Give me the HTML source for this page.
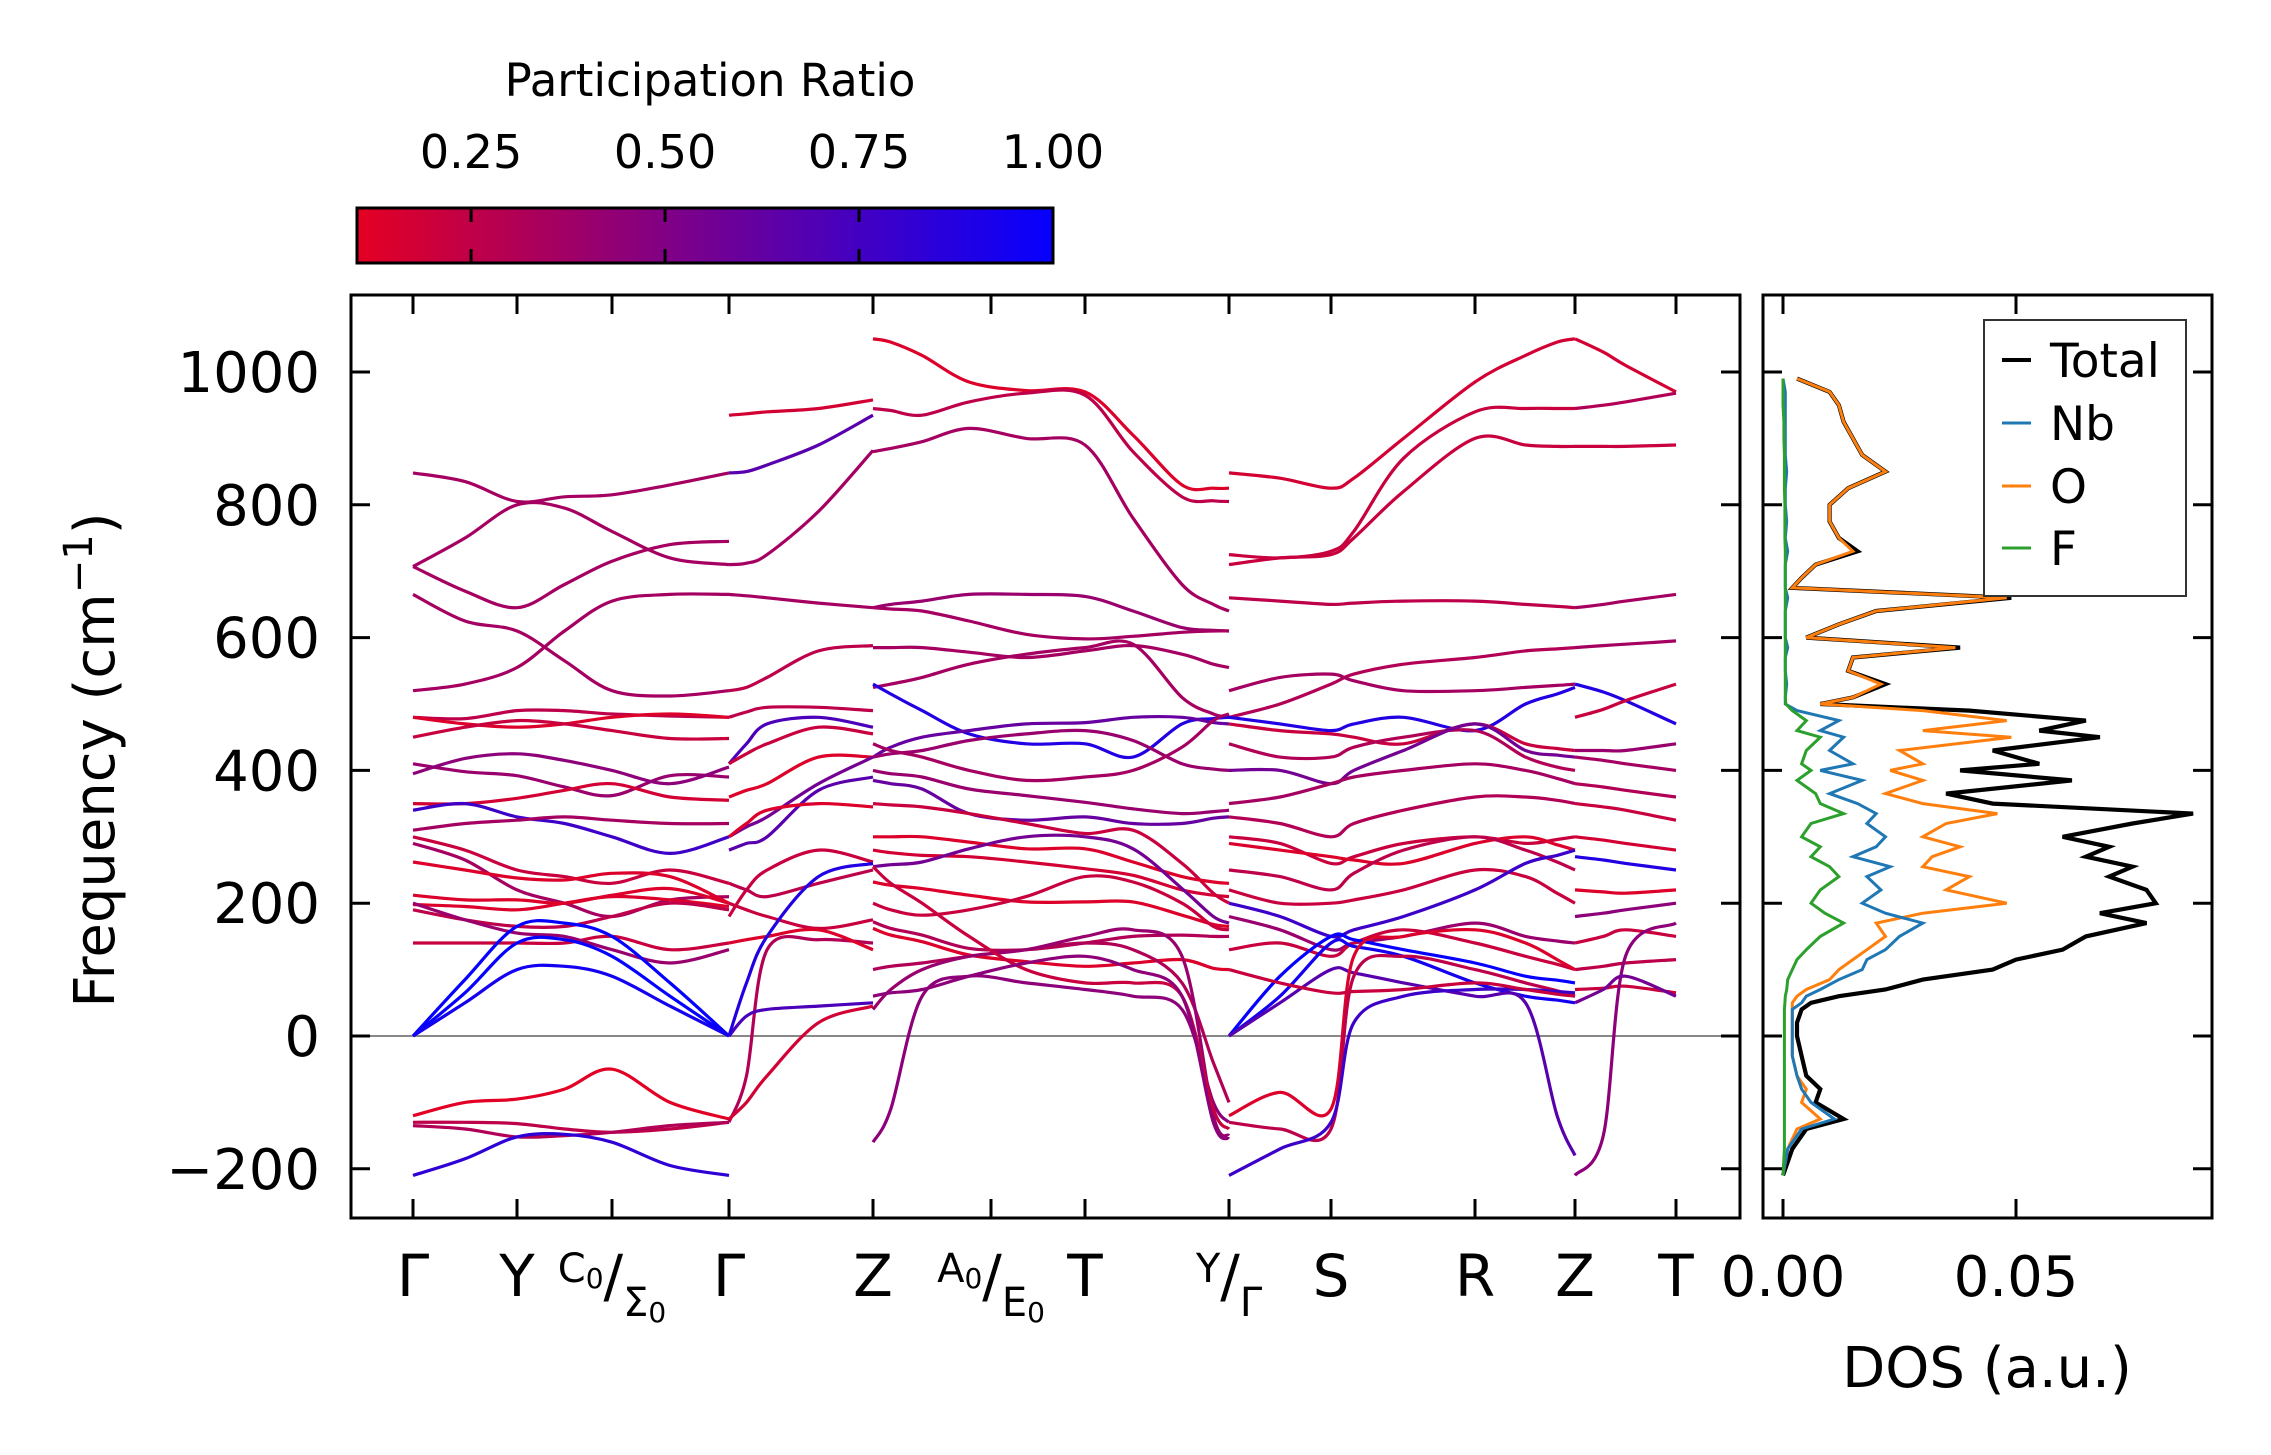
<!DOCTYPE html>
<html><head><meta charset="utf-8"><title>Phonon band structure and DOS</title>
<style>
html,body{margin:0;padding:0;background:#fff;}
svg{display:block;font-family:"DejaVu Sans","Liberation Sans",sans-serif;}
</style></head>
<body>
<svg id="chart" width="2271" height="1455" viewBox="0 0 2271 1455" xmlns="http://www.w3.org/2000/svg">
<defs>
<linearGradient id="cbgrad" x1="0" x2="1" y1="0" y2="0">
<stop offset="0" stop-color="rgb(228,0,35)"/>
<stop offset="1" stop-color="rgb(5,0,255)"/>
</linearGradient>
<clipPath id="mainclip"><rect x="351" y="295" width="1389" height="923"/></clipPath>
<clipPath id="dosclip"><rect x="1763" y="295" width="449" height="923"/></clipPath>
</defs>
<g id="colorbar">
<text x="710" y="96" font-size="45" text-anchor="middle">Participation Ratio</text>
<rect x="357" y="208" width="696" height="55" fill="url(#cbgrad)" stroke="#000" stroke-width="3"/>
</g>
<g id="bands" clip-path="url(#mainclip)"></g>
<g id="dos" clip-path="url(#dosclip)"></g>
<g id="axes"></g>
<text transform="translate(114,760) rotate(-90)" font-size="56" text-anchor="middle">Frequency (cm<tspan dy="-22" font-size="40">−1</tspan><tspan dy="22">)</tspan></text>
<text x="1987" y="1387" font-size="56" text-anchor="middle">DOS (a.u.)</text>
<g id="legend">
<rect x="1984" y="320" width="202" height="276" fill="#fff" stroke="#333" stroke-width="2"/>
</g>
</svg>
<script>
// ---------- Data ----------
const kLabels = ["Γ","Y","C0/Σ0","Γ","Z","A0/E0","T","Y/Γ","S","R","Z","T"];
const kDist = [0, 1.0, 1.92, 3.03, 4.43, 5.56, 6.47, 7.85, 8.83, 10.22, 11.17, 12.17];
const yTicks = [-200, 0, 200, 400, 600, 800, 1000];
const cbTicks = [0.25, 0.50, 0.75, 1.00];
const dosTicks = [0.00, 0.05];

// Segment 1: Γ -> Y -> C0|Σ0 -> Γ
const seg1K = [0, 0.5, 1.0, 1.46, 1.92, 2.47, 3.03];
const seg1Bands = [
 [848,835,805,812,815,830,848],[707,750,800,795,760,720,710],[707,670,645,680,715,740,745],
 [665,625,610,565,520,512,520],[520,530,555,610,655,665,665],[480,478,490,490,485,482,480],
 [480,470,465,470,480,485,480],[450,465,475,470,460,448,448],[410,398,392,375,362,392,390],
 [395,418,425,415,400,380,405],[350,350,358,370,380,360,355],[340,350,330,320,300,275,300],
 [310,320,325,330,325,320,320],[300,280,250,240,230,250,230],[290,265,220,200,180,205,210],
 [262,250,238,235,245,240,200],[212,205,205,200,212,222,200],[198,195,190,200,210,205,195],
 [190,175,165,165,180,200,190],[140,140,140,140,150,130,140],[200,175,155,150,130,110,130],
 [0,85,165,170,150,80,0],[0,65,140,145,120,60,0],[0,50,100,105,90,45,0],
 [-120,-100,-95,-80,-50,-100,-125],[-130,-130,-132,-140,-145,-140,-130],
 [-135,-140,-152,-150,-145,-135,-130],[-210,-185,-152,-148,-160,-195,-210]
];
const seg1P = [.4,.4,.4,.4,.4,.3,.15,.25,.45,.5,.2,.8,.4,.25,.4,.15,.15,.15,.3,.25,.45,1,1,.95,.12,.3,.35,.85];

// Segment 2: Γ -> Z
const seg2K = [3.03, 3.2, 3.4, 3.9, 4.43];
const seg2Bands = [
 [935,937,940,945,958],[848,850,860,890,935],[710,712,725,790,882],[665,663,660,652,645],
 [520,525,540,580,588],[480,488,495,495,490],[410,440,470,480,465],[410,425,440,465,455],
 [360,370,380,420,420],[300,315,330,380,420],[280,290,300,370,390],[-130,-60,130,145,140],
 [-125,-100,-60,20,45],[0,30,40,45,50],[200,190,180,162,175],[180,220,250,280,262],
 [140,145,150,160,130],[300,320,340,350,345],[230,220,210,230,250],[0,80,150,240,260]
];
const seg2P = [.2,.7,.4,.4,.3,.3,.75,.25,.15,.6,.7,.35,.2,.75,.25,.25,.15,.15,.3,.9];

// Segment 3: Z -> A0|E0 -> T -> Y
const seg3K = [4.43, 4.6, 4.9, 5.35, 5.9, 6.47, 6.93, 7.4, 7.7, 7.85];
const seg3Bands = [
 [1050,1045,1025,985,972,970,905,830,825,825],[945,942,935,955,968,965,880,812,806,805],
 [880,885,895,915,900,890,780,680,650,640],[645,650,655,665,665,662,640,615,611,610],
 [645,643,640,625,605,598,602,608,610,610],[585,585,585,578,570,580,588,575,560,555],
 [525,530,540,560,575,585,590,510,485,480],[530,515,490,455,440,440,420,470,478,480],
 [420,435,450,460,470,472,480,480,472,470],[420,425,430,445,455,460,445,410,402,400],
 [440,430,420,400,385,390,400,435,475,485],[400,395,390,372,362,352,342,335,338,340],
 [385,380,372,335,325,330,320,320,328,330],[350,348,345,335,320,305,310,260,215,200],
 [300,300,300,292,282,282,262,240,232,230],[280,276,272,270,262,252,242,220,212,210],
 [255,258,262,282,300,300,282,222,180,170],[232,227,222,212,202,202,202,182,168,165],
 [200,190,182,190,210,240,232,200,165,160],[172,162,152,132,130,140,150,152,150,150],
 [162,152,142,122,112,105,110,115,102,100],[100,105,110,120,130,140,130,80,-40,-100],
 [-160,-110,60,90,80,70,60,40,-100,-130],[40,70,100,120,130,150,160,120,-120,-150],
 [255,230,200,150,100,80,80,60,-110,-140],[60,65,70,90,110,120,100,60,-130,-155]
];
const seg3P = [.15,.3,.4,.45,.4,.4,.4,.9,.65,.45,.4,.45,.65,.25,.15,.2,.6,.15,.25,.35,.15,.35,.5,.45,.25,.5];

// Segment 4: Γ -> S -> R -> Z
const seg4K = [7.85, 8.34, 8.83, 9.05, 9.53, 10.22, 10.7, 11.0, 11.17];
const seg4Bands = [
 [848,840,825,840,900,985,1025,1045,1050],[725,720,730,760,870,940,945,945,945],
 [710,720,725,750,820,900,890,888,888],[660,655,650,652,655,655,650,647,645],
 [480,500,530,545,560,570,580,583,585],[520,540,545,535,520,520,525,528,530],
 [480,470,460,470,480,460,500,515,525],[470,460,455,450,440,470,440,433,430],
 [440,420,420,435,450,460,420,405,400],[400,400,380,400,430,470,430,423,420],
 [350,360,380,390,400,410,400,388,380],[330,320,300,320,340,360,360,355,350],
 [300,290,260,270,290,300,290,296,300],[290,280,270,265,260,290,300,288,280],
 [250,240,220,245,280,300,280,262,250],[220,200,200,205,220,250,240,215,200],
 [200,180,150,160,180,220,260,272,280],[180,160,130,140,150,170,150,143,140],
 [130,140,120,140,160,140,120,108,100],[0,90,150,145,130,110,90,84,80],
 [0,60,140,135,120,80,60,54,50],[0,50,100,95,80,60,50,-120,-180],
 [-120,-85,-110,120,150,160,140,115,100],[-130,-140,-140,90,120,100,80,68,60],
 [-210,-170,-130,20,60,70,70,67,65],[100,80,65,67,70,80,70,63,60]
];
const seg4P = [.2,.25,.25,.3,.35,.4,.9,.25,.35,.6,.4,.35,.25,.15,.3,.25,.8,.45,.25,1,.95,.7,.15,.3,.8,.25];

// Segment 5: Z -> T
const seg5K = [11.17, 11.45, 11.67, 12.17];
const seg5Bands = [
 [1050,1030,1010,970],[945,950,955,968],[888,888,888,890],[645,650,655,665],[585,588,590,595],
 [530,518,505,470],[480,492,505,530],[430,430,430,440],[420,415,410,400],[380,375,370,360],
 [350,345,340,325],[300,295,290,280],[270,265,260,250],[220,217,215,220],[180,185,190,200],
 [140,150,160,150],[100,105,110,115],[70,72,75,65],[-210,-150,120,170],[50,70,90,60]
];
const seg5P = [.2,.35,.25,.4,.4,.9,.25,.45,.4,.35,.25,.2,.9,.15,.5,.25,.3,.25,.5,.6];

// DOS
const dosFreq = [990,970,950,925,900,875,850,825,800,775,750,730,710,690,675,660,640,620,600,585,570,550,530,510,500,490,475,460,450,430,410,400,385,365,350,335,320,300,285,270,255,240,220,200,185,170,150,130,115,100,85,70,60,50,40,20,0,-30,-60,-80,-100,-125,-140,-170,-210];
const dosTotal = [0.003,0.010,0.012,0.013,0.015,0.017,0.022,0.014,0.010,0.010,0.012,0.016,0.007,0.004,0.002,0.049,0.020,0.012,0.005,0.038,0.015,0.014,0.022,0.015,0.008,0.040,0.065,0.055,0.068,0.045,0.055,0.038,0.062,0.035,0.045,0.088,0.075,0.060,0.070,0.065,0.075,0.070,0.078,0.080,0.068,0.078,0.065,0.060,0.050,0.045,0.030,0.022,0.012,0.006,0.004,0.003,0.003,0.004,0.005,0.008,0.007,0.013,0.005,0.002,0.0];
const dosO = [0.003,0.010,0.012,0.013,0.015,0.017,0.022,0.014,0.010,0.010,0.012,0.015,0.007,0.004,0.002,0.048,0.020,0.012,0.005,0.037,0.015,0.014,0.021,0.015,0.008,0.030,0.048,0.030,0.049,0.025,0.030,0.023,0.030,0.022,0.030,0.046,0.035,0.030,0.038,0.032,0.030,0.040,0.035,0.048,0.030,0.020,0.022,0.018,0.015,0.012,0.010,0.005,0.003,0.002,0.002,0.002,0.002,0.002,0.003,0.005,0.004,0.008,0.003,0.001,0.0];
const dosNb = [0.0,0.0005,0.0005,0.0005,0.0005,0.0005,0.0008,0.0005,0.0005,0.0008,0.0005,0.001,0.0005,0.0005,0.0005,0.001,0.0005,0.0005,0.0005,0.001,0.0005,0.0005,0.0008,0.0005,0.0005,0.003,0.012,0.008,0.013,0.010,0.015,0.008,0.017,0.010,0.016,0.020,0.018,0.022,0.020,0.015,0.023,0.018,0.021,0.017,0.022,0.030,0.025,0.022,0.018,0.017,0.012,0.008,0.005,0.004,0.002,0.002,0.002,0.002,0.003,0.004,0.006,0.011,0.004,0.001,0.0];
const dosF = [0.0,0.0,0.0,0.0002,0.0002,0.0003,0.0003,0.0003,0.0004,0.0004,0.0004,0.0005,0.0005,0.0005,0.0005,0.0005,0.0005,0.0005,0.0005,0.0005,0.0005,0.0005,0.0005,0.0005,0.0006,0.002,0.005,0.003,0.008,0.005,0.004,0.006,0.003,0.007,0.008,0.013,0.006,0.004,0.008,0.006,0.010,0.012,0.008,0.006,0.009,0.013,0.008,0.005,0.003,0.002,0.001,0.0008,0.0005,0.0004,0.0003,0.0003,0.0003,0.0003,0.0003,0.0003,0.0003,0.0003,0.0003,0.0003,0.0];

// ---------- Scales ----------
const NS = "http://www.w3.org/2000/svg";
const kPix = [413,517,612,729,873,991,1085,1229,1331,1475,1575,1676];
function xk(k){
  for(let i=0;i<kDist.length-1;i++){
    if(k<=kDist[i+1]+1e-9){const t=(k-kDist[i])/(kDist[i+1]-kDist[i]);return kPix[i]+t*(kPix[i+1]-kPix[i]);}
  }
  return kPix[kPix.length-1];
}
function yf(f){ return 1036 - f*0.664; }
function xd(d){ return 1783 + d*4660; }
function xcb(v){ return 357 + (v-0.103)/(1-0.103)*696; }
function color(p){
  const t=Math.pow(Math.max(0,Math.min(1,(p-0.103)/0.897)),1.15);
  const r=Math.round(228+(5-228)*t), b=Math.round(35+(255-35)*t);
  return `rgb(${r},0,${b})`;
}
function smoothPath(pts){
  let d=`M${pts[0][0].toFixed(1)},${pts[0][1].toFixed(1)}`;
  for(let i=0;i<pts.length-1;i++){
    const p0=pts[Math.max(0,i-1)],p1=pts[i],p2=pts[i+1],p3=pts[Math.min(pts.length-1,i+2)];
    const c1=[p1[0]+(p2[0]-p0[0])/6,p1[1]+(p2[1]-p0[1])/6];
    const c2=[p2[0]-(p3[0]-p1[0])/6,p2[1]-(p3[1]-p1[1])/6];
    d+=` C${c1[0].toFixed(1)},${c1[1].toFixed(1)} ${c2[0].toFixed(1)},${c2[1].toFixed(1)} ${p2[0].toFixed(1)},${p2[1].toFixed(1)}`;
  }
  return d;
}
function el(tag,attrs,parent){const e=document.createElementNS(NS,tag);for(const k in attrs)e.setAttribute(k,attrs[k]);parent.appendChild(e);return e;}

// ---------- Bands ----------
const gB=document.getElementById('bands');
const zl=el('line',{x1:351,x2:1740,y1:yf(0),y2:yf(0),stroke:'#888','stroke-width':2},gB);


const segs=[[seg1K,seg1Bands,seg1P,'seg1'],[seg2K,seg2Bands,seg2P,'seg2'],[seg3K,seg3Bands,seg3P,'seg3'],[seg4K,seg4Bands,seg4P,'seg4'],[seg5K,seg5Bands,seg5P,'seg5']];
segs.forEach(([ks,bands,ps,nm])=>{
  bands.forEach((b,i)=>{
    const pts=b.map((f,j)=>[xk(ks[j]),yf(f)]);
    const p=el('path',{d:smoothPath(pts),fill:'none',stroke:color(ps[i]),'stroke-width':3.2},gB);
    
    
  });
});

// ---------- DOS ----------
const gD=document.getElementById('dos');
const dosSeries=[[dosTotal,'#000',4.2,'dos-total'],[dosO,'#ff7f0e',3,'dos-o'],[dosNb,'#1f77b4',3,'dos-nb'],[dosF,'#2ca02c',3,'dos-f']];
dosSeries.forEach(([vals,c,w,nm])=>{
  const d=vals.map((v,i)=>(i?'L':'M')+xd(v).toFixed(1)+','+yf(dosFreq[i]).toFixed(1)).join(' ');
  const p=el('path',{d:d,fill:'none',stroke:c,'stroke-width':w},gD);
  
  
});

// ---------- Axes ----------
const gA=document.getElementById('axes');
const frame1=el('rect',{x:351,y:295,width:1389,height:923,fill:'none',stroke:'#000','stroke-width':3},gA);


const frame2=el('rect',{x:1763,y:295,width:449,height:923,fill:'none',stroke:'#000','stroke-width':3},gA);


yTicks.forEach(v=>{
  const y=yf(v);
  [[351,370],[1721,1740],[1763,1782],[2193,2212]].forEach(([a,b])=>{
    const t=el('line',{x1:a,x2:b,y1:y,y2:y,stroke:'#000','stroke-width':3},gA);
    
    
  });
  const tx=el('text',{x:320,y:y+20,'font-size':56,'text-anchor':'end'},gA);
  tx.textContent=v<0?'−'+Math.abs(v):String(v);
  
  
});
kDist.forEach((k,i)=>{
  const x=xk(k);
  [[295,314],[1199,1218]].forEach(([a,b])=>{
    const t=el('line',{x1:x,x2:x,y1:a,y2:b,stroke:'#000','stroke-width':3},gA);
    
    
  });
  const lab=kLabels[i];
  let tx=el('text',{x:x,y:1296,'font-size':58,'text-anchor':'middle'},gA);
  if(lab.includes('/')){
    const [a,b]=lab.split('/');
    const up=a.length>1?a[0]+'<tspan font-size="28" dy="6">'+a.slice(1)+'</tspan>':a;
    const dn=b.length>1?b[0]+'<tspan font-size="28" dy="6">'+b.slice(1)+'</tspan>':b;
    tx.innerHTML='<tspan font-size="40" dy="-14">'+up+'</tspan><tspan dy="'+(a.length>1?8:14)+'">/</tspan><tspan font-size="40" dy="20">'+dn+'</tspan>';
  } else {
    tx.textContent=lab;
  }
  
  
});
dosTicks.forEach(v=>{
  const x=xd(v);
  [[295,314],[1199,1218]].forEach(([a,b])=>{
    const t=el('line',{x1:x,x2:x,y1:a,y2:b,stroke:'#000','stroke-width':3},gA);
    
    
  });
  const tx=el('text',{x:x,y:1296,'font-size':56,'text-anchor':'middle'},gA);
  tx.textContent=v.toFixed(2);
  
  
});
const gC=document.getElementById('colorbar');
cbTicks.forEach(v=>{
  const x=xcb(v);
  if(v<1){
    [[208,222],[249,263]].forEach(([a,b])=>{
      const t=el('line',{x1:x,x2:x,y1:a,y2:b,stroke:'#000','stroke-width':3},gC);
      
      
    });
  }
  const tx=el('text',{x:x,y:168,'font-size':46,'text-anchor':'middle'},gC);
  tx.textContent=v.toFixed(2);
  
  
});

// ---------- Legend ----------
const gL=document.getElementById('legend');
const legNames=['Total','Nb','O','F'];
const legColors=['#000','#1f77b4','#ff7f0e','#2ca02c'];
const legY=[360,423,486,548];
legNames.forEach((n,i)=>{
  const ln=el('line',{x1:2002,x2:2031,y1:legY[i],y2:legY[i],stroke:legColors[i],'stroke-width':i?3:4},gL);
  
  
  const tx=el('text',{x:2050,y:legY[i]+17,'font-size':47},gL);
  tx.textContent=n;
  
  
});
</script>
</body></html>
